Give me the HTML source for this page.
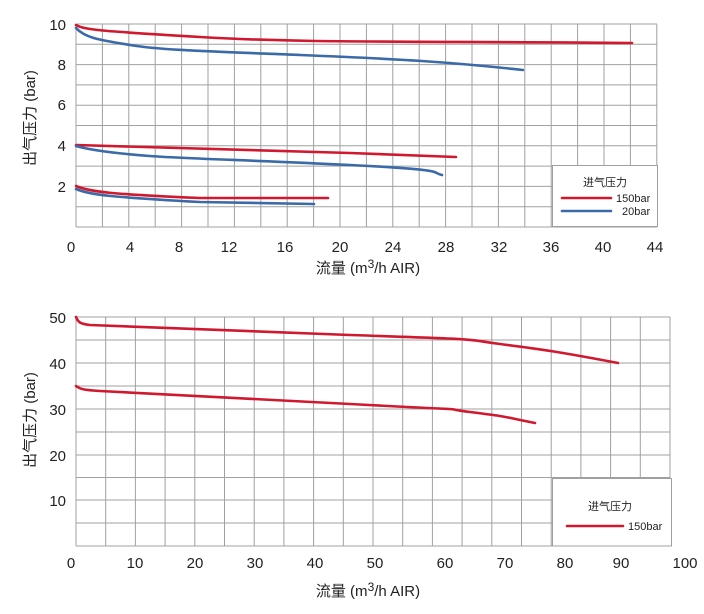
<!DOCTYPE html><html><head><meta charset="utf-8"><style>body{margin:0;background:#fff}svg{display:block}text{font-family:"Liberation Sans","Noto Sans CJK SC",sans-serif;fill:#222}</style></head><body>
<svg width="704" height="614" viewBox="0 0 704 614" xmlns="http://www.w3.org/2000/svg">
<g stroke="#a0a0a0" stroke-width="1" fill="none">
<path d="M76 24V227M102.4 24V227M128.8 24V227M155.2 24V227M181.6 24V227M208 24V227M234.4 24V227M260.8 24V227M287.2 24V227M313.6 24V227M340 24V227M366.4 24V227M392.8 24V227M419.2 24V227M445.6 24V227M472 24V227M498.4 24V227M524.8 24V227M551.2 24V227M577.6 24V227M604 24V227M630.4 24V227M656.8 24V227"/>
<path d="M76 24H657M76 44.3H657M76 64.6H657M76 84.9H657M76 105.2H657M76 125.5H657M76 145.8H657M76 166.1H657M76 186.4H657M76 206.7H657M76 227H657"/>
<path d="M76 317V546M105.7 317V546M135.4 317V546M165.1 317V546M194.8 317V546M224.5 317V546M254.2 317V546M283.9 317V546M313.6 317V546M343.3 317V546M373 317V546M402.7 317V546M432.4 317V546M462.1 317V546M491.8 317V546M521.5 317V546M551.2 317V546M580.9 317V546M610.6 317V546M640.3 317V546M670 317V546"/>
<path d="M76 317H670M76 340H670M76 363H670M76 386H670M76 409H670M76 432H670M76 455H670M76 477.5H670M76 500H670M76 523H670M76 546H670"/>
</g>
<rect x="552.5" y="165.5" width="105" height="61" fill="#fff" stroke="#a0a0a0"/>
<rect x="552.5" y="478.5" width="119" height="67.5" fill="#fff" stroke="#a0a0a0"/>
<g fill="none" stroke-width="2.6" stroke-linecap="round">
<path stroke="#d0192e" d="M76 25C85 30 100 31 200 37S400 41 632 43"/>
<path stroke="#3b6aa8" d="M76 28C85 38 100 40 130 45S200 51 300 55S450 62 523 70"/>
<path stroke="#d0192e" d="M76 145C120 147 200 149 350 153L456 157"/>
<path stroke="#3b6aa8" d="M76 146C90 150 110 153 150 156S250 160 350 165S430 172 442 175"/>
<path stroke="#d0192e" d="M76 186C90 192 110 194 200 198L328 198"/>
<path stroke="#3b6aa8" d="M76 189C90 195 110 197 200 202L314 204"/>
<path stroke="#d0192e" d="M76 317C78 322 80 324 90 325S200 330 350 335S460 339 500 344S560 352 618 363"/>
<path stroke="#d0192e" d="M76 386C80 389 83 390 100 391S200 396 350 404S430 407 470 412S500 416 535 423"/>
<path stroke="#d0192e" d="M562 198H611M567 526H623"/>
<path stroke="#3b6aa8" d="M562 211H611"/>
</g>
<g font-size="15" text-anchor="end">
<text x="66" y="30">10</text><text x="66" y="70">8</text><text x="66" y="110">6</text><text x="66" y="151">4</text><text x="66" y="192">2</text>
<text x="66" y="323">50</text><text x="66" y="369">40</text><text x="66" y="415">30</text><text x="66" y="461">20</text><text x="66" y="506">10</text>
</g>
<g font-size="15" text-anchor="middle">
<text x="71" y="252">0</text><text x="130" y="252">4</text><text x="179" y="252">8</text><text x="229" y="252">12</text><text x="285" y="252">16</text><text x="340" y="252">20</text><text x="393" y="252">24</text><text x="446" y="252">28</text><text x="499" y="252">32</text><text x="551" y="252">36</text><text x="603" y="252">40</text><text x="655" y="252">44</text>
<text x="71" y="568">0</text><text x="135" y="568">10</text><text x="195" y="568">20</text><text x="255" y="568">30</text><text x="315" y="568">40</text><text x="375" y="568">50</text><text x="445" y="568">60</text><text x="505" y="568">70</text><text x="565" y="568">80</text><text x="621" y="568">90</text><text x="685" y="568">100</text>
<text x="368" y="273">流量 (m<tspan font-size="12" dy="-5">3</tspan><tspan dy="5">/h AIR)</tspan></text>
<text x="368" y="596">流量 (m<tspan font-size="12" dy="-5">3</tspan><tspan dy="5">/h AIR)</tspan></text>
<text transform="translate(35 118) rotate(-90)">出气压力 (bar)</text>
<text transform="translate(35 420) rotate(-90)">出气压力 (bar)</text>
</g>
<g font-size="11">
<text x="583" y="186">进气压力</text><text x="616" y="202">150bar</text><text x="622" y="215">20bar</text>
<text x="588" y="510">进气压力</text><text x="628" y="530">150bar</text>
</g>
</svg>
</body></html>
